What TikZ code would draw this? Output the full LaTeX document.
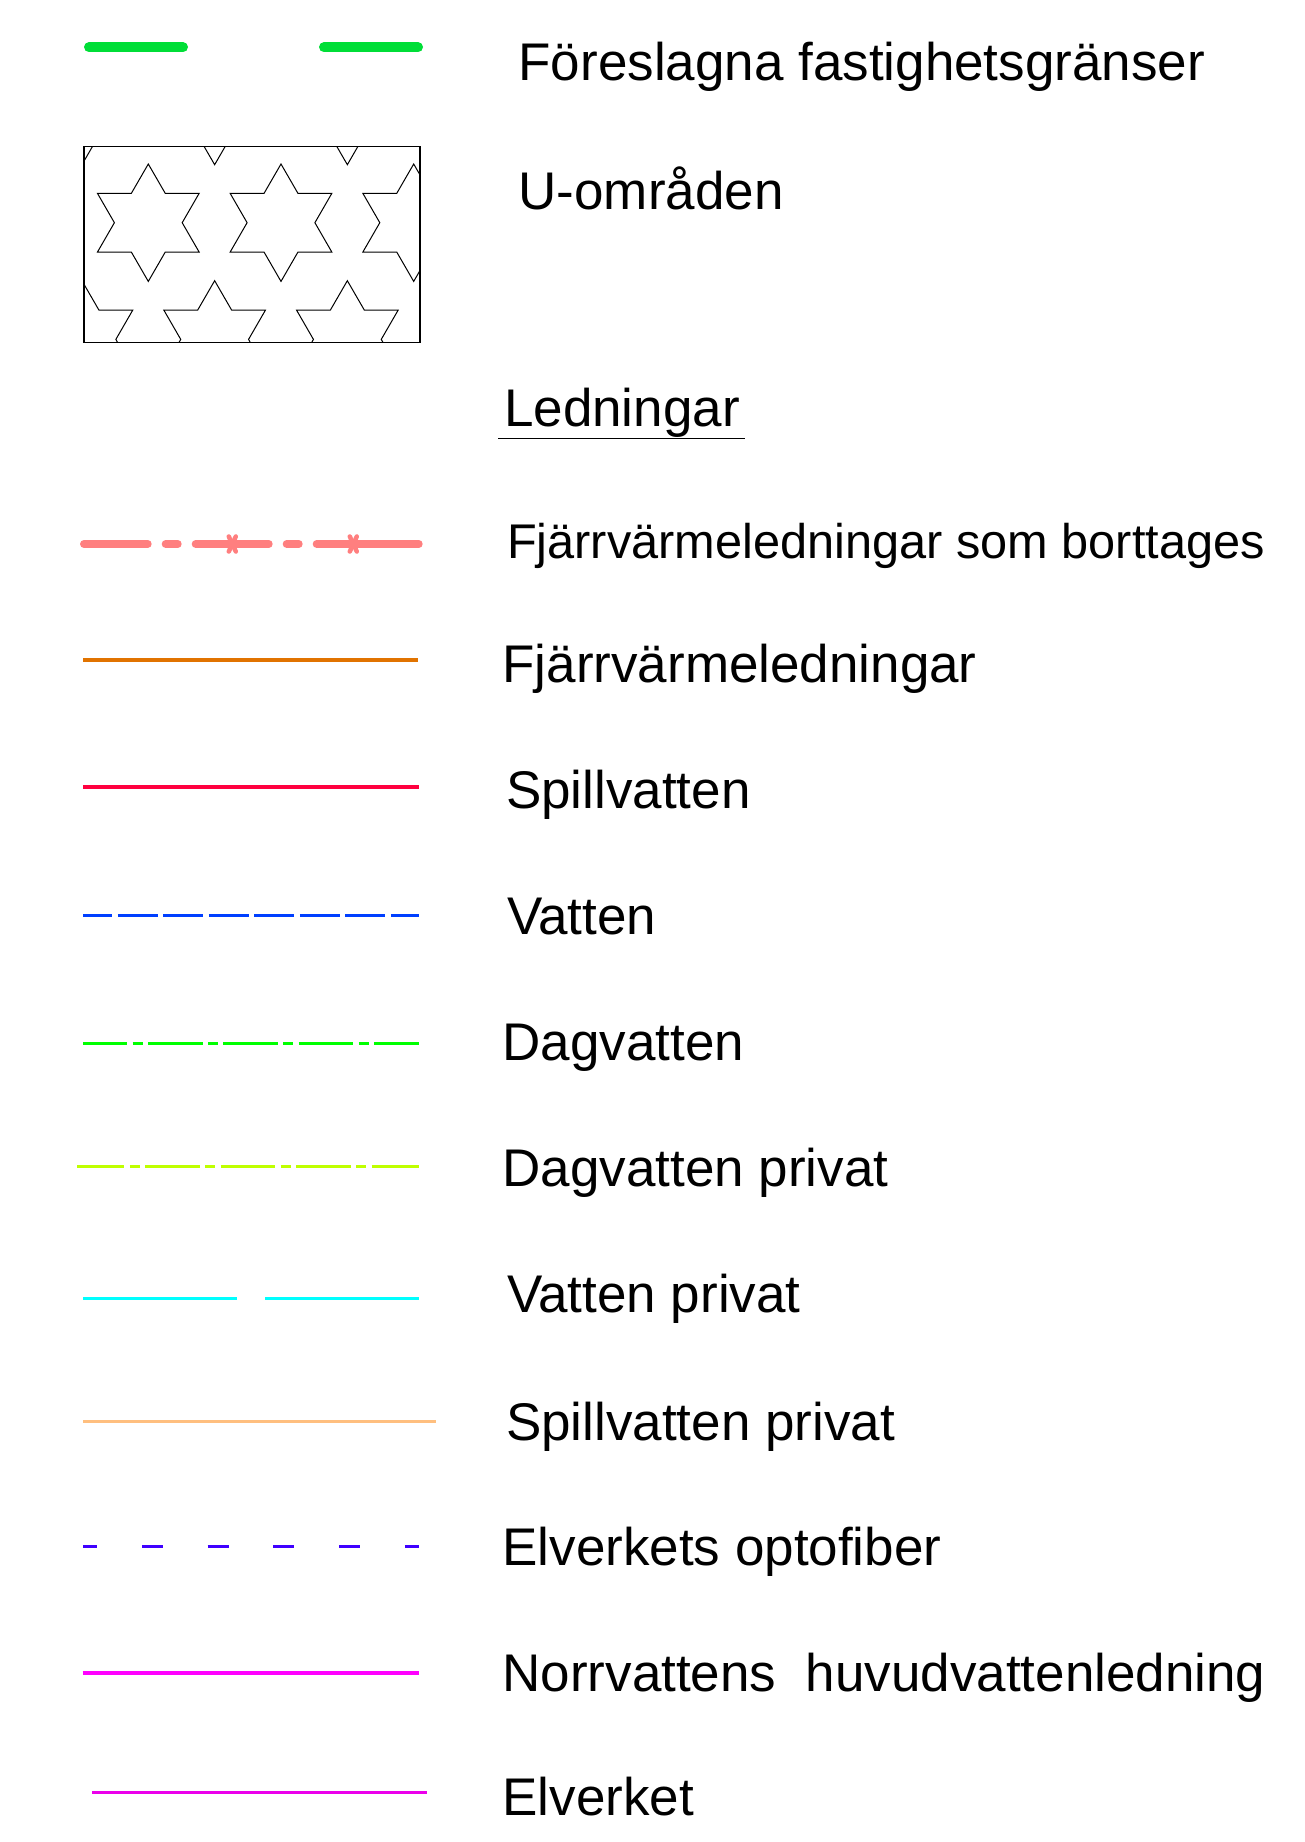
\documentclass[tikz,border=0pt]{standalone}
\usepackage{fontspec}
\setmainfont{Liberation Sans}
\definecolor{cGrenz}{RGB}{0,222,55}
\definecolor{cSalmon}{RGB}{255,127,127}
\definecolor{cOrange}{RGB}{225,115,0}
\definecolor{cRed}{RGB}{255,0,63}
\definecolor{cBlue}{RGB}{0,63,255}
\definecolor{cGreen}{RGB}{0,255,0}
\definecolor{cYGreen}{RGB}{191,255,0}
\definecolor{cCyan}{RGB}{0,255,255}
\definecolor{cLOrange}{RGB}{255,191,127}
\definecolor{cOpto}{RGB}{63,0,255}
\definecolor{cMagenta}{RGB}{255,0,255}
\definecolor{cElverk}{RGB}{235,0,235}
\begin{document}
\begin{tikzpicture}[x=1pt,y=-1pt,
  lbl/.style={anchor=base west,inner sep=0pt,outer sep=0pt,font=\fontsize{53}{60}\selectfont},
  lblsmall/.style={lbl,font=\fontsize{48.7}{55}\selectfont},
  sample/.style={line cap=butt,line width=3pt},
  starline/.style={line width=1pt,line join=miter},
]
\useasboundingbox[fill=white] (0,0) rectangle (1304,1842);

% Föreslagna fastighetsgränser
\draw[line width=10pt,line cap=round,cGrenz] (89,47.3) -- (183,47.3);
\draw[line width=10pt,line cap=round,cGrenz] (324,47.3) -- (418,47.3);
\node[lbl] (tFastighet) at (518.6,80) {Föreslagna fastighetsgränser};

% U-områden
\begin{scope}
  \clip (84,146.7) rectangle (420,342.7);
  \foreach \j in {-1,0,1}{
    \foreach \i in {-1,0,1,2,3}{
      \pgfmathsetmacro\cx{148.3+132.7*\i+mod(abs(\j),2)*66.35}
      \pgfmathsetmacro\cy{222.7+116.7*\j}
      \draw[starline,shift={(\cx,\cy)}] (90:58.7pt) -- (60:33.9pt) -- (30:58.7pt) -- (0:33.9pt)
        -- (-30:58.7pt) -- (-60:33.9pt) -- (-90:58.7pt) -- (-120:33.9pt) -- (-150:58.7pt)
        -- (180:33.9pt) -- (150:58.7pt) -- (120:33.9pt) -- cycle;
    }
  }
\end{scope}
\draw[line width=1.4pt] (84,146.7) rectangle (420,342.7);
\node[lbl] (tU) at (518.6,209) {U-områden};

% Ledningar
\node[lbl] (tLedn) at (504.1,426.7) {Ledningar};
\draw[line width=1.5pt] (498.3,438.3) -- (745,438.3);

% Fjärrvärmeledningar som borttages
\begin{scope}[cSalmon,line width=8pt,line cap=round]
  \draw (84,544) -- (147.7,544);
  \draw (165.7,544) -- (177.7,544);
  \draw (195.7,544) -- (268.7,544);
  \draw (286.7,544) -- (298.7,544);
  \draw (316.7,544) -- (418.7,544);
\end{scope}
\foreach \xx in {232.3,353.3}{
  \draw[cSalmon,line width=4.5pt,line cap=round] (\xx-3.5,536.5) -- (\xx+3.5,551.5);
  \draw[cSalmon,line width=4.5pt,line cap=round] (\xx+3.5,536.5) -- (\xx-3.5,551.5);
}
\node[lblsmall] (tBort) at (507,558) {Fjärrvärmeledningar som borttages};

% Fjärrvärmeledningar
\draw[sample,cOrange,line width=3.5pt] (83.3,660) -- (417.7,660);
\node[lbl] (tFjv) at (502.5,682) {Fjärrvärmeledningar};

% Spillvatten
\draw[sample,cRed,line width=3.5pt] (83,787) -- (419,787);
\node[lbl] (tSpill) at (506,808) {Spillvatten};

% Vatten
\draw[sample,cBlue,dash pattern=on 40pt off 5.5pt,dash phase=11pt] (83.3,915) -- (419,915);
\node[lbl] (tVatten) at (507,934) {Vatten};

% Dagvatten
\draw[sample,cGreen,dash pattern=on 54.7pt off 5.3pt on 10pt off 5.3pt,dash phase=10.7pt] (83.3,1043.7) -- (419,1043.7);
\node[lbl] (tDag) at (502.5,1060.5) {Dagvatten};

% Dagvatten privat
\draw[sample,cYGreen,dash pattern=on 54.4pt off 5.6pt on 10pt off 5.4pt,dash phase=7.4pt] (77.3,1166.7) -- (419,1166.7);
\node[lbl] (tDagP) at (502.5,1186) {Dagvatten privat};

% Vatten privat
\draw[sample,cCyan] (83.3,1298) -- (237,1298);
\draw[sample,cCyan] (265,1298) -- (419,1298);
\node[lbl] (tVatP) at (507,1312) {Vatten privat};

% Spillvatten privat
\draw[sample,cLOrange] (83.3,1421.7) -- (436.3,1421.7);
\node[lbl] (tSpillP) at (506,1440) {Spillvatten privat};

% Elverkets optofiber
\draw[sample,cOpto,dash pattern=on 21pt off 44.7pt,dash phase=7pt] (83.3,1546) -- (419,1546);
\node[lbl] (tOpto) at (502.5,1565) {Elverkets optofiber};

% Norrvattens huvudvattenledning
\draw[sample,cMagenta,line width=4pt] (82.7,1672.7) -- (419.3,1672.7);
\node[lbl] (tNorr) at (502.5,1691.7) {Norrvattens\ \ huvudvattenledning};

% Elverket
\draw[sample,cElverk,line width=2.5pt] (92,1792.7) -- (427,1792.7);
\node[lbl] (tElv) at (502.5,1815.7) {Elverket};
\end{tikzpicture}
\end{document}
